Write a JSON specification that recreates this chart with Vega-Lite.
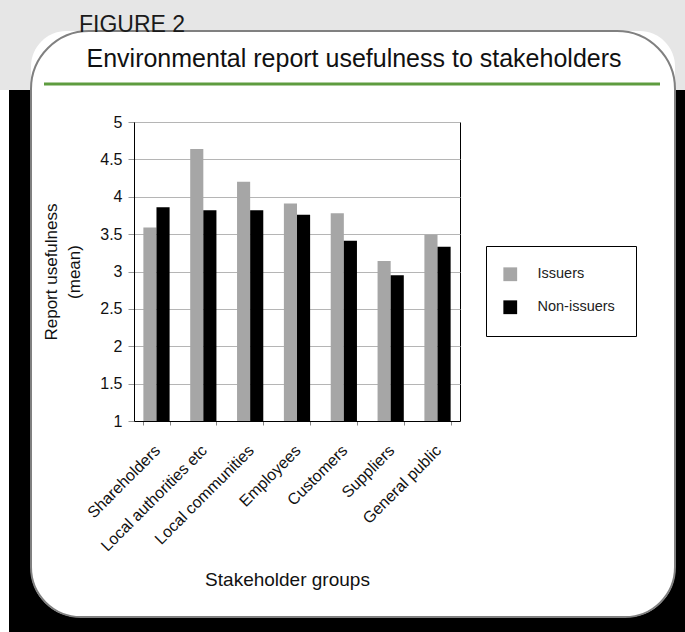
{
  "$schema": "https://vega.github.io/schema/vega-lite/v6.json",
  "width": 326,
  "height": 299,
  "autosize": {"type": "none"},
  "padding": {"left": 134, "top": 122, "right": 225, "bottom": 211},
  "background": "white",
  "config": {
    "font": "Liberation Sans",
    "view": {"stroke": "#000000", "strokeWidth": 1}
  },
  "layer": [
    {
      "data": {"values": [{}]},
      "mark": {"type": "rect", "filled": false, "stroke": "#000000", "strokeWidth": 100, "cornerRadius": 98},
      "encoding": {"x": {"value": -153}, "x2": {"value": 591}, "y": {"value": -141}, "y2": {"value": 545}}
    },
    {
      "data": {"values": [{}]},
      "mark": {"type": "rect", "fill": "#e6e6e6"},
      "encoding": {"x": {"value": -134}, "x2": {"value": 551}, "y": {"value": -122}, "y2": {"value": -32}}
    },
    {
      "data": {"values": [{}]},
      "mark": {"type": "rect", "fill": "#ffffff", "cornerRadiusTopLeft": 58, "cornerRadiusTopRight": 58},
      "encoding": {"x": {"value": -103}, "x2": {"value": 541}, "y": {"value": -91}, "y2": {"value": -20}}
    },
    {
      "data": {"values": [{}]},
      "mark": {"type": "rect", "fill": "#ffffff"},
      "encoding": {"x": {"value": -134}, "x2": {"value": -125}, "y": {"value": -32}, "y2": {"value": 510}}
    },
    {
      "data": {"values": [{}]},
      "mark": {"type": "rect", "filled": false, "stroke": "#808080", "strokeWidth": 2, "cornerRadiusTopLeft": 58, "cornerRadiusTopRight": 58, "cornerRadiusBottomLeft": 50, "cornerRadiusBottomRight": 50},
      "encoding": {"x": {"value": -103}, "x2": {"value": 541}, "y": {"value": -91}, "y2": {"value": 495}}
    },
    {
      "data": {"values": [{}]},
      "mark": {"type": "rule", "stroke": "#5e9c3f", "strokeWidth": 3},
      "encoding": {"x": {"value": -90}, "x2": {"value": 526}, "y": {"value": -38}, "y2": {"value": -38}}
    },
    {
      "data": {"values": [{"t": "FIGURE 2"}]},
      "mark": {"type": "text", "align": "left", "baseline": "alphabetic", "fontSize": 23, "color": "#1a1a1a", "font": "Liberation Sans"},
      "encoding": {"text": {"field": "t"}, "x": {"value": -55}, "y": {"value": -90}}
    },
    {
      "data": {"values": [{"t": "Environmental report usefulness to stakeholders"}]},
      "mark": {"type": "text", "align": "center", "baseline": "alphabetic", "fontSize": 25, "color": "#111111", "font": "Liberation Sans"},
      "encoding": {"text": {"field": "t"}, "x": {"value": 220}, "y": {"value": -55}}
    },
    {
      "data": {
        "values": [
          {"group": "Shareholders", "series": "Issuers", "value": 3.59},
          {"group": "Shareholders", "series": "Non-issuers", "value": 3.86},
          {"group": "Local authorities etc", "series": "Issuers", "value": 4.64},
          {"group": "Local authorities etc", "series": "Non-issuers", "value": 3.82},
          {"group": "Local communities", "series": "Issuers", "value": 4.2},
          {"group": "Local communities", "series": "Non-issuers", "value": 3.82},
          {"group": "Employees", "series": "Issuers", "value": 3.91},
          {"group": "Employees", "series": "Non-issuers", "value": 3.76},
          {"group": "Customers", "series": "Issuers", "value": 3.78},
          {"group": "Customers", "series": "Non-issuers", "value": 3.41},
          {"group": "Suppliers", "series": "Issuers", "value": 3.14},
          {"group": "Suppliers", "series": "Non-issuers", "value": 2.95},
          {"group": "General public", "series": "Issuers", "value": 3.49},
          {"group": "General public", "series": "Non-issuers", "value": 3.33}
        ]
      },
      "mark": {"type": "bar"},
      "encoding": {
        "x": {
          "field": "group",
          "type": "nominal",
          "sort": null,
          "scale": {"paddingInner": 0.44, "paddingOuter": 0.2},
          "axis": {
            "title": "Stakeholder groups",
            "labelAngle": -45,
            "labelFontSize": 16,
            "labelColor": "#111111",
            "labelPadding": 17,
            "labelOffset": -5,
            "titleFontSize": 19,
            "titleFontWeight": "normal",
            "titleColor": "#111111",
            "titlePadding": 17,
            "titleX": 153,
            "tickBand": "extent",
            "tickSize": 4,
            "tickColor": "#888888",
            "domainColor": "#000000",
            "grid": false
          }
        },
        "xOffset": {"field": "series", "sort": ["Issuers", "Non-issuers"]},
        "y": {
          "field": "value",
          "type": "quantitative",
          "scale": {"domain": [1, 5], "zero": false, "nice": false},
          "axis": {
            "title": ["Report usefulness", "(mean)"],
            "values": [1, 1.5, 2, 2.5, 3, 3.5, 4, 4.5, 5],
            "format": "~g",
            "grid": true,
            "gridColor": "#b5b5b5",
            "tickColor": "#999999",
            "tickSize": 6,
            "labelFontSize": 16,
            "labelColor": "#111111",
            "labelPadding": 6,
            "titleFontSize": 17,
            "titleFontWeight": "normal",
            "titleColor": "#111111",
            "titleLineHeight": 23,
            "titlePadding": 16,
            "domainColor": "#000000"
          }
        },
        "y2": {"datum": 1},
        "color": {
          "field": "series",
          "type": "nominal",
          "scale": {"domain": ["Issuers", "Non-issuers"], "range": ["#a6a6a6", "#000000"]},
          "legend": {
            "title": null,
            "orient": "none",
            "legendX": 352,
            "legendY": 124,
            "strokeColor": "#000000",
            "fillColor": "#ffffff",
            "padding": 21,
            "symbolType": "square",
            "symbolSize": 190,
            "symbolStrokeWidth": 0,
            "symbolOffset": -4,
            "labelFontSize": 14.5,
            "labelColor": "#222222",
            "labelOffset": 20,
            "rowPadding": 17
          }
        }
      }
    }
  ]
}
